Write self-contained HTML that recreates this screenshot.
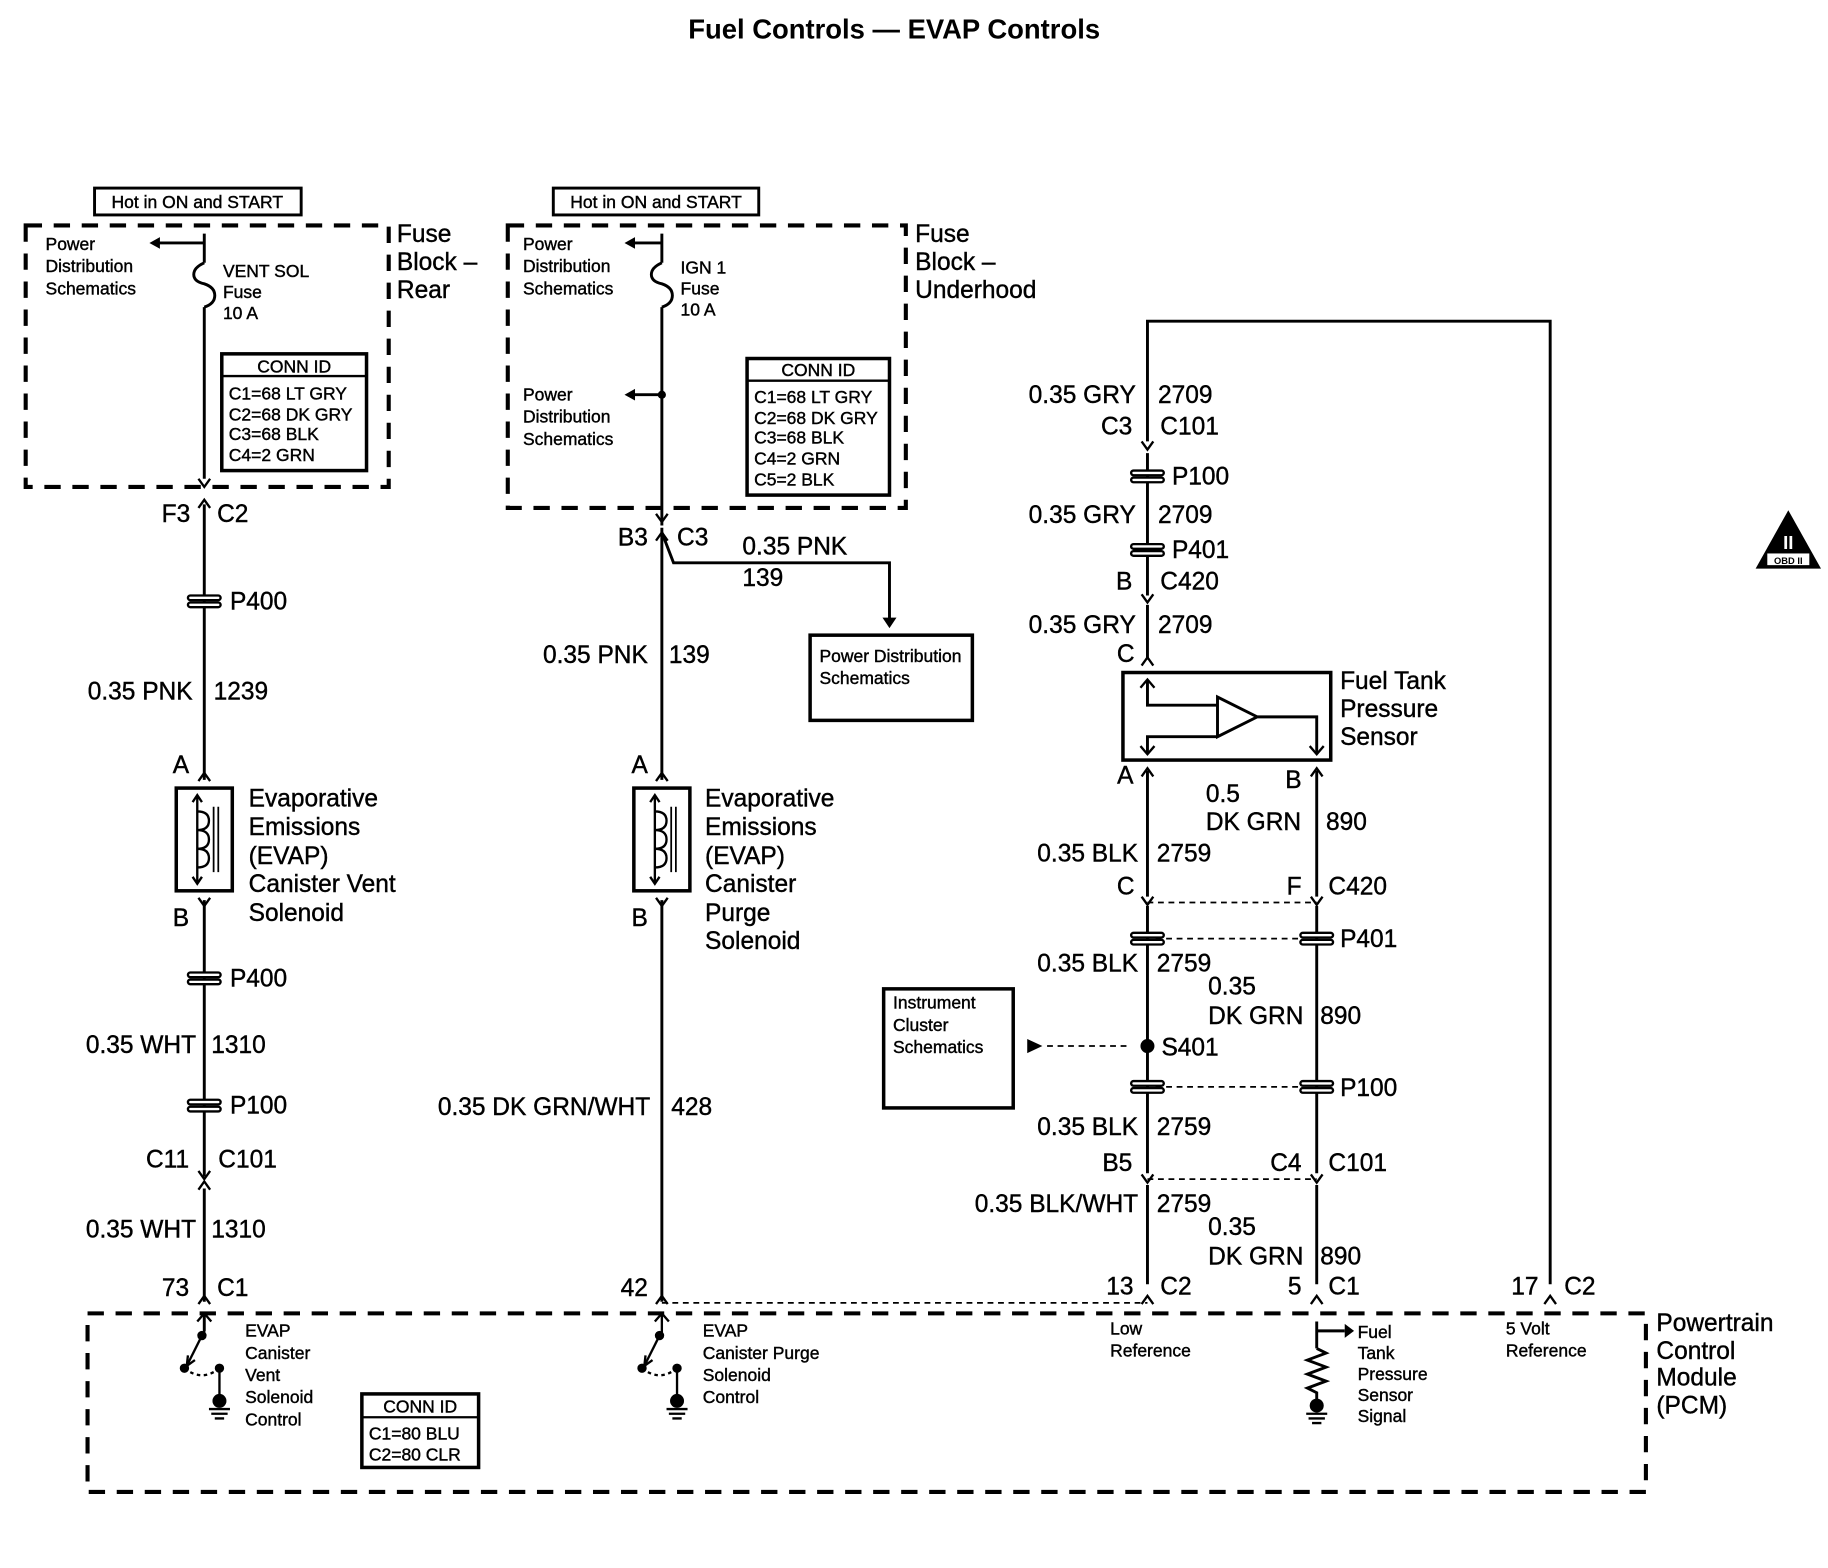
<!DOCTYPE html>
<html><head><meta charset="utf-8"><style>
html,body{margin:0;padding:0;background:#fff}
svg{display:block}
text{font-family:"Liberation Sans",Arial,sans-serif;fill:#000;stroke:#000;stroke-width:0.35px}
.t{font-size:21px}
.s{font-size:15px}
.e{text-anchor:end}
</style></head><body>
<svg width="1828" height="1568" viewBox="0 0 1566 1343" xmlns="http://www.w3.org/2000/svg">
<defs>
<g id="cdn"><path d="M-5,-7 L0,0 L5,-7" fill="none" stroke="#000" stroke-width="2"/></g>
<g id="cup"><path d="M-5,7 L0,0 L5,7" fill="none" stroke="#000" stroke-width="2"/></g>
<g id="spl"><rect x="-14" y="-5" width="28" height="4" rx="2" fill="#fff" stroke="#000" stroke-width="2"/><rect x="-14" y="1" width="28" height="4" rx="2" fill="#fff" stroke="#000" stroke-width="2"/></g>
<g id="sol"><rect x="-24" y="0" width="48" height="88" fill="none" stroke="#000" stroke-width="3"/>
<path d="M-6,6 V82 M-10,12 L-6,6 L-2,12 M-10,76 L-6,82 L-2,76" fill="none" stroke="#000" stroke-width="2"/>
<path d="M-6,20 q10,0 10,8 q0,8 -10,8 q10,0 10,8 q0,8 -10,8 q10,0 10,8 q0,8 -10,8" fill="none" stroke="#000" stroke-width="2"/>
<path d="M8,16 V72 M12,16 V72" stroke="#000" stroke-width="1.5"/></g>
<g id="sw"><path d="M-6,10 L0,3 L6,10 M0,3 V22" fill="none" stroke="#000" stroke-width="2"/>
<circle cx="-2" cy="22" r="4"/><path d="M-2,22 L-15,48" stroke="#000" stroke-width="2"/><path d="M-15,48 l1,-9 m-1,9 l7,-5" stroke="#000" stroke-width="2"/>
<circle cx="-17" cy="50" r="4"/><path d="M-17,50 q15,12 30,0" fill="none" stroke="#000" stroke-width="2" stroke-dasharray="3,3"/>
<circle cx="13" cy="50" r="4"/><path d="M13,50 V76" stroke="#000" stroke-width="2"/><circle cx="13" cy="78" r="6"/>
<path d="M4,85 H22 M6,89 H20 M9,93 H17" stroke="#000" stroke-width="2"/></g>
<g id="fuse"><path d="M0,0 q-9,4 -9,10 q0,6 9,8 q9,3 9,10 q0,7 -9,10" fill="none" stroke="#000" stroke-width="2.5"/></g>
</defs>
<g stroke="#000" stroke-width="2.5" fill="none">
<rect x="81" y="161" width="177" height="23" stroke-width="2.5"/>
<rect x="474" y="161" width="176" height="23"/>
<rect x="22" y="193" width="311" height="224" stroke-width="3.5" stroke-dasharray="14,10"/>
<rect x="435" y="193" width="341" height="242" stroke-width="3.5" stroke-dasharray="14,10"/>
<rect x="75" y="1125" width="1335" height="153" stroke-width="3.5" stroke-dasharray="14,10"/>
<rect x="190" y="303" width="124" height="100" stroke-width="3"/><line x1="190" y1="322" x2="314" y2="322" stroke-width="2"/>
<rect x="640" y="307" width="122" height="117" stroke-width="3"/><line x1="640" y1="326" x2="762" y2="326" stroke-width="2"/>
<rect x="310" y="1194" width="100" height="63" stroke-width="3"/><line x1="310" y1="1214" x2="410" y2="1214" stroke-width="2"/>
<rect x="694" y="544" width="139" height="73" stroke-width="3"/>
<rect x="757" y="847" width="111" height="102" stroke-width="3"/>
<rect x="962" y="576" width="178" height="75" stroke-width="3"/>
<path d="M175,200 V225 M175,263 V410 M175,432 V668 M175,771 V1008 M175,1018 V1115 M175,1140 V1125"/>
<path d="M175,208 H132"/>
<path d="M567,200 V225 M567,263 V450 M567,452 V668 M567,771 V1115"/>
<path d="M567,208 H540 M567,338 H540"/>
<path d="M567,456 L577,482 H762 V530"/>
<path d="M983,378 V275 H1328 V1100"/>
<path d="M983,388 V510 M983,518 V565 M983,660 V768 M983,776 V1005 M983,1015 V1100"/>
<path d="M1128,660 V768 M1128,776 V1005 M1128,1015 V1100"/>
<path d="M983,583 V604 H1043 M983,645 V631 H1043 M1043,597 V631 L1077,614 Z M1077,614 H1128 V645"/>
<path d="M977,589 L983,582 L989,589 M977,639 L983,646 L989,639 M1122,639 L1128,646 L1134,639" stroke-width="2"/>
<g stroke-width="1.5" stroke-dasharray="5,4">
<path d="M983,773 H1128 M990,804 H1116 M990,931 H1116 M983,1010 H1128 M567,1116 H983"/>
<path d="M965,896 H893"/>
</g>
<path d="M1128,1132 V1155 M1128,1140 H1152 M1128,1155 l8,4 l-16,6 l16,6 l-16,6 l16,6 l-16,6 l8,4 V1202"/>
</g>
<path d="M1152,1134 L1160,1140 L1152,1146 Z M762,538 l-6,-9 h12 Z M880,890 L893,896 L880,902 Z M128,208 l9,-5 v10 Z M535,208 l9,-5 v10 Z M535,338 l9,-5 v10 Z"/>
<circle cx="567" cy="338" r="3.5"/><circle cx="983" cy="896" r="6"/>
<circle cx="1128" cy="1204" r="6"/><path d="M1119,1211 H1137 M1121,1215 H1135 M1124,1219 H1132" stroke="#000" stroke-width="2"/>
<use href="#fuse" x="175" y="225"/><use href="#fuse" x="567" y="225"/>
<use href="#cdn" x="175" y="417"/><use href="#cup" x="175" y="428"/>
<use href="#cdn" x="567" y="447"/><use href="#cup" x="567" y="456"/>
<use href="#cup" x="175" y="662"/><use href="#cup" x="567" y="662"/>
<use href="#cdn" x="175" y="776"/><use href="#cdn" x="567" y="776"/>
<use href="#cdn" x="175" y="1010"/><use href="#cup" x="175" y="1012"/>
<use href="#cup" x="175" y="1110"/><use href="#cup" x="567" y="1110"/>
<use href="#cdn" x="983" y="385"/><use href="#cdn" x="983" y="516"/>
<use href="#cup" x="983" y="563"/><use href="#cup" x="983" y="658"/><use href="#cup" x="1128" y="658"/>
<use href="#cdn" x="983" y="775"/><use href="#cdn" x="1128" y="775"/>
<use href="#cdn" x="983" y="1013"/><use href="#cdn" x="1128" y="1013"/>
<use href="#cup" x="983" y="1110"/><use href="#cup" x="1128" y="1110"/><use href="#cup" x="1328" y="1110"/>
<use href="#spl" x="175" y="515"/><use href="#spl" x="175" y="838"/><use href="#spl" x="175" y="947"/>
<use href="#spl" x="983" y="408"/><use href="#spl" x="983" y="471"/>
<use href="#spl" x="983" y="804"/><use href="#spl" x="1128" y="804"/>
<use href="#spl" x="983" y="931"/><use href="#spl" x="1128" y="931"/>
<use href="#sol" x="175" y="675"/><use href="#sol" x="567" y="675"/>
<use href="#sw" x="175" y="1122"/><use href="#sw" x="567" y="1122"/>
<path d="M1532,437 L1560,487 H1504 Z"/><rect x="1514" y="474" width="36" height="10" fill="#fff"/>
<text x="1532" y="470" text-anchor="middle" style="font-size:16px;fill:#fff;stroke:none;font-weight:bold">II</text>
<text x="1532" y="483" text-anchor="middle" style="font-size:8px;font-weight:bold;stroke:none">OBD II</text>

<text x="766" y="33" text-anchor="middle" style="font-size:23.5px;font-weight:bold;stroke:none">Fuel Controls — EVAP Controls</text>
<text x="169" y="178" text-anchor="middle" class="s">Hot in ON and START</text>
<text x="562" y="178" text-anchor="middle" class="s">Hot in ON and START</text>
<g class="t"><text x="340" y="207">Fuse</text><text x="340" y="231">Block –</text><text x="340" y="255">Rear</text>
<text x="784" y="207">Fuse</text><text x="784" y="231">Block –</text><text x="784" y="255">Underhood</text>
<text x="1419" y="1140">Powertrain</text><text x="1419" y="1164">Control</text><text x="1419" y="1187">Module</text><text x="1419" y="1211">(PCM)</text>
<text x="1148" y="590">Fuel Tank</text><text x="1148" y="614">Pressure</text><text x="1148" y="638">Sensor</text>
<text x="213" y="691">Evaporative</text><text x="213" y="715">Emissions</text><text x="213" y="740">(EVAP)</text><text x="213" y="764">Canister Vent</text><text x="213" y="789">Solenoid</text>
<text x="604" y="691">Evaporative</text><text x="604" y="715">Emissions</text><text x="604" y="740">(EVAP)</text><text x="604" y="764">Canister</text><text x="604" y="789">Purge</text><text x="604" y="813">Solenoid</text>
<text x="163" y="447" class="e">F3</text><text x="186" y="447">C2</text>
<text x="197" y="522">P400</text><text x="197" y="845">P400</text><text x="197" y="954">P100</text>
<text x="165" y="599" class="e">0.35 PNK</text><text x="183" y="599">1239</text>
<text x="162" y="662" class="e">A</text><text x="162" y="793" class="e">B</text>
<text x="168" y="902" class="e">0.35 WHT</text><text x="181" y="902">1310</text>
<text x="162" y="1000" class="e">C11</text><text x="187" y="1000">C101</text>
<text x="168" y="1060" class="e">0.35 WHT</text><text x="181" y="1060">1310</text>
<text x="162" y="1110" class="e">73</text><text x="186" y="1110">C1</text>
<text x="555" y="467" class="e">B3</text><text x="580" y="467">C3</text>
<text x="636" y="475">0.35 PNK</text><text x="636" y="502">139</text>
<text x="555" y="568" class="e">0.35 PNK</text><text x="573" y="568">139</text>
<text x="555" y="662" class="e">A</text><text x="555" y="793" class="e">B</text>
<text x="557" y="955" class="e">0.35 DK GRN/WHT</text><text x="575" y="955">428</text>
<text x="555" y="1110" class="e">42</text>
<text x="973" y="345" class="e">0.35 GRY</text><text x="992" y="345">2709</text>
<text x="970" y="372" class="e">C3</text><text x="994" y="372">C101</text>
<text x="1004" y="415">P100</text>
<text x="973" y="448" class="e">0.35 GRY</text><text x="992" y="448">2709</text>
<text x="1004" y="478">P401</text>
<text x="970" y="505" class="e">B</text><text x="994" y="505">C420</text>
<text x="973" y="542" class="e">0.35 GRY</text><text x="992" y="542">2709</text>
<text x="972" y="567" class="e">C</text>
<text x="971" y="671" class="e">A</text><text x="1115" y="675" class="e">B</text>
<text x="1033" y="687">0.5</text><text x="1033" y="711">DK GRN</text><text x="1136" y="711">890</text>
<text x="975" y="738" class="e">0.35 BLK</text><text x="991" y="738">2759</text>
<text x="972" y="766" class="e">C</text><text x="1115" y="766" class="e">F</text><text x="1138" y="766">C420</text>
<text x="1148" y="811">P401</text>
<text x="975" y="832" class="e">0.35 BLK</text><text x="991" y="832">2759</text>
<text x="1035" y="852">0.35</text><text x="1035" y="877">DK GRN</text><text x="1131" y="877">890</text>
<text x="995" y="904">S401</text>
<text x="1148" y="939">P100</text>
<text x="975" y="972" class="e">0.35 BLK</text><text x="991" y="972">2759</text>
<text x="970" y="1003" class="e">B5</text><text x="1115" y="1003" class="e">C4</text><text x="1138" y="1003">C101</text>
<text x="975" y="1038" class="e">0.35 BLK/WHT</text><text x="991" y="1038">2759</text>
<text x="1035" y="1058">0.35</text><text x="1035" y="1083">DK GRN</text><text x="1131" y="1083">890</text>
<text x="971" y="1109" class="e">13</text><text x="994" y="1109">C2</text>
<text x="1115" y="1109" class="e">5</text><text x="1138" y="1109">C1</text>
<text x="1318" y="1109" class="e">17</text><text x="1340" y="1109">C2</text>
</g>
<g class="s">
<text x="39" y="214">Power</text><text x="39" y="233">Distribution</text><text x="39" y="252">Schematics</text>
<text x="191" y="237">VENT SOL</text><text x="191" y="255">Fuse</text><text x="191" y="273">10 A</text>
<text x="252" y="319" text-anchor="middle">CONN ID</text>
<text x="196" y="342">C1=68 LT GRY</text><text x="196" y="360">C2=68 DK GRY</text><text x="196" y="377">C3=68 BLK</text><text x="196" y="395">C4=2 GRN</text>
<text x="448" y="214">Power</text><text x="448" y="233">Distribution</text><text x="448" y="252">Schematics</text>
<text x="583" y="234">IGN 1</text><text x="583" y="252">Fuse</text><text x="583" y="270">10 A</text>
<text x="448" y="343">Power</text><text x="448" y="362">Distribution</text><text x="448" y="381">Schematics</text>
<text x="701" y="322" text-anchor="middle">CONN ID</text>
<text x="646" y="345">C1=68 LT GRY</text><text x="646" y="363">C2=68 DK GRY</text><text x="646" y="380">C3=68 BLK</text><text x="646" y="398">C4=2 GRN</text><text x="646" y="416">C5=2 BLK</text>
<text x="702" y="567">Power Distribution</text><text x="702" y="586">Schematics</text>
<text x="765" y="864">Instrument</text><text x="765" y="883">Cluster</text><text x="765" y="902">Schematics</text>
<text x="210" y="1145">EVAP</text><text x="210" y="1164">Canister</text><text x="210" y="1183">Vent</text><text x="210" y="1202">Solenoid</text><text x="210" y="1221">Control</text>
<text x="360" y="1210" text-anchor="middle">CONN ID</text><text x="316" y="1233">C1=80 BLU</text><text x="316" y="1251">C2=80 CLR</text>
<text x="602" y="1145">EVAP</text><text x="602" y="1164">Canister Purge</text><text x="602" y="1183">Solenoid</text><text x="602" y="1202">Control</text>
<text x="951" y="1143">Low</text><text x="951" y="1162">Reference</text>
<text x="1163" y="1146">Fuel</text><text x="1163" y="1164">Tank</text><text x="1163" y="1182">Pressure</text><text x="1163" y="1200">Sensor</text><text x="1163" y="1218">Signal</text>
<text x="1290" y="1143">5 Volt</text><text x="1290" y="1162">Reference</text>
</g>
</svg>
</body></html>
